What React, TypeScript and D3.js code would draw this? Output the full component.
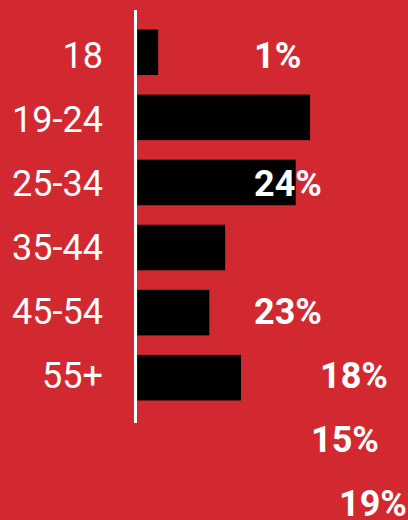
import { useEffect, useRef } from 'react';
import * as d3 from 'd3';

// age groups and bar lengths (percent)
const categories = ['18', '19-24', '25-34', '35-44', '45-54', '55+'];
const barValues = [2.9, 24, 22, 12.2, 10, 14.4];

// value labels as they appear in the picture
const labelTexts = ['1%', '24%', '23%', '18%', '15%', '19%'];
// row each label sits on and its left edge
const labelLayout = [
  { row: 0, x: 254 },
  { row: 2, x: 254 },
  { row: 4, x: 254 },
  { row: 5, x: 320 },
  { row: 6, x: 311 },
  { row: 7, x: 339 },
];

const width = 408;
const height = 520;
const bg = '#d2282f';

export default function App() {
  const svgRef = useRef<SVGSVGElement>(null);

  useEffect(() => {
    if (!svgRef.current) return;
    const svg = d3.select(svgRef.current);
    svg.selectAll('*').remove();

    svg.append('rect')
      .attr('width', width)
      .attr('height', height)
      .attr('fill', bg);

    const y = d3.scaleBand<string>()
      .domain(categories)
      .range([10, 420])
      .paddingInner(0.3)
      .paddingOuter(0.3);

    const x = d3.scaleLinear()
      .domain([0, 25])
      .range([137.3, 317.3]);

    // text rows (baseline) step slightly tighter than the bars
    const rowY = d3.scaleLinear().domain([0, 1]).range([68.3, 132.2]);

    // bars
    svg.selectAll('.bar')
      .data(categories)
      .enter().append('rect')
      .attr('class', 'bar')
      .attr('x', x(0))
      .attr('y', d => y(d) || 0)
      .attr('width', (d, i) => x(barValues[i]) - x(0))
      .attr('height', y.bandwidth())
      .attr('fill', '#000');

    // axis line
    svg.append('line')
      .attr('x1', 135.5)
      .attr('x2', 135.5)
      .attr('y1', 10)
      .attr('y2', 423)
      .attr('stroke', '#fff')
      .attr('stroke-width', 3);

    // category labels
    svg.selectAll('.cat')
      .data(categories)
      .enter().append('text')
      .attr('class', 'cat')
      .attr('x', 103)
      .attr('y', (d, i) => rowY(i))
      .attr('text-anchor', 'end')
      .style('font-family', 'Roboto, sans-serif')
      .style('font-size', '36px')
      .style('fill', '#fff')
      .text(d => d);

    // value labels
    svg.selectAll('.val')
      .data(labelTexts)
      .enter().append('text')
      .attr('class', 'val')
      .attr('x', (d, i) => labelLayout[i].x)
      .attr('y', (d, i) => rowY(labelLayout[i].row))
      .style('font-family', 'Roboto, sans-serif')
      .style('font-size', '36px')
      .style('font-weight', 'bold')
      .style('fill', '#fff')
      .text(d => d);
  }, []);

  return (
    <svg
      ref={svgRef}
      width={width}
      height={height}
      style={{ position: 'absolute', left: 0, top: 0, display: 'block' }}
    />
  );
}
